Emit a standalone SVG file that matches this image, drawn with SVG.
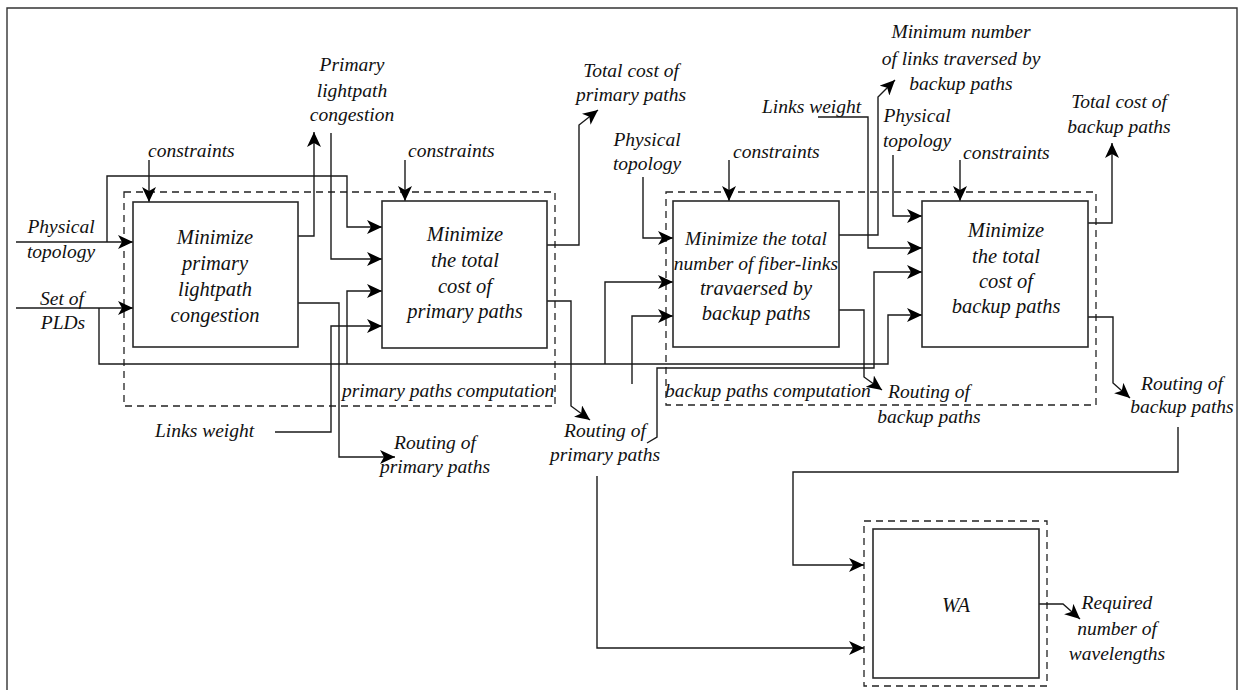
<svg xmlns="http://www.w3.org/2000/svg" width="1244" height="690" viewBox="0 0 1244 690">
<style>
.ln{fill:none;stroke:#1a1a1a;stroke-width:1.4}
.bx{fill:#fff;stroke:#2a2a2a;stroke-width:1.6}
.ds{fill:none;stroke:#222;stroke-width:1.3;stroke-dasharray:7 5}
.fr{fill:none;stroke:#333;stroke-width:1.4}
text{font-family:"Liberation Serif",serif;font-style:italic;font-size:19.5px;fill:#111}
.b{font-size:20.5px}
.c{text-anchor:middle}
</style>
<defs>
<marker id="ah" markerWidth="16" markerHeight="14" refX="15" refY="7" orient="auto" markerUnits="userSpaceOnUse">
<path d="M0,0 L15,7 L0,14 L4,7 z" fill="#000"/>
</marker>
</defs>
<rect width="1244" height="690" fill="#fff"/>
<path class="fr" d="M7,690 V8 H1237 V690"/>

<g id="groups">
<rect class="ds" x="124" y="192" width="431" height="214"/>
<rect class="ds" x="666" y="192" width="430" height="213"/>
<rect class="ds" x="864" y="521" width="183" height="165"/>
<text x="342" y="397">primary paths computation</text>
<text x="665" y="397">backup paths computation</text>
</g>

<g id="connectors" marker-end="url(#ah)">
<path class="ln" d="M16,242 H133"/>
<path class="ln" d="M107,242 V176 H347 V227 H382"/>
<path class="ln" d="M16,308 H133"/>
<path class="ln" d="M99,308 V364 H888 V315 H922"/>
<path class="ln" d="M347,364 V291 H382"/>
<path class="ln" d="M605,364 V282 H673"/>
<path class="ln" d="M149,160 V202"/>
<path class="ln" d="M405,160 V201"/>
<path class="ln" d="M729,160 V201"/>
<path class="ln" d="M960,160 V201"/>
<path class="ln" d="M298,236 H314 V132"/>
<path class="ln" d="M331,133 V259 H382"/>
<path class="ln" d="M298,303 H339 V457 H395"/>
<path class="ln" d="M275,432 H331 V326 H382"/>
<path class="ln" d="M547,245 H579 V125 L598,110"/>
<path class="ln" d="M547,301 H571 V406 L590,420"/>
<path class="ln" d="M647,443 L657,437 V368 H874 V272 H922"/>
<path class="ln" d="M597,476 V648 H864"/>
<path class="ln" d="M643,177 V238 H673"/>
<path class="ln" d="M632,384 V316 H673"/>
<path class="ln" d="M839,235 H878 V97 L895,80"/>
<path class="ln" d="M839,310 H864 V377 L882,390"/>
<path class="ln" d="M818,117 H868 V248 H922"/>
<path class="ln" d="M893,155 V216 H922"/>
<path class="ln" d="M1088,223 H1112 V143"/>
<path class="ln" d="M1088,317 H1113 V383 L1130,398"/>
<path class="ln" d="M1178,427 V472 H793 V565 H864"/>
<path class="ln" d="M1039,604 H1063 L1080,619"/>
</g>

<g id="box1">
<rect class="bx" x="133" y="202" width="165" height="145"/>
<text class="c b" x="215" y="244">Minimize</text>
<text class="c b" x="215" y="270">primary</text>
<text class="c b" x="215" y="296">lightpath</text>
<text class="c b" x="215" y="322">congestion</text>
</g>
<g id="box2">
<rect class="bx" x="382" y="201" width="165" height="147"/>
<text class="c b" x="465" y="241">Minimize</text>
<text class="c b" x="465" y="267">the total</text>
<text class="c b" x="465" y="293">cost of</text>
<text class="c b" x="465" y="318">primary paths</text>
</g>
<g id="box3">
<rect class="bx" x="673" y="201" width="166" height="146"/>
<text class="c" x="756" y="245">Minimize the total</text>
<text class="c" x="756" y="270">number of fiber-links</text>
<text class="c b" x="756" y="295">travaersed by</text>
<text class="c b" x="756" y="320">backup paths</text>
</g>
<g id="box4">
<rect class="bx" x="922" y="201" width="166" height="146"/>
<text class="c b" x="1006" y="237">Minimize</text>
<text class="c b" x="1006" y="263">the total</text>
<text class="c b" x="1006" y="288">cost of</text>
<text class="c b" x="1006" y="313">backup paths</text>
</g>
<g id="wa">
<rect class="bx" x="873" y="529" width="166" height="149"/>
<text class="c b" x="956" y="612">WA</text>
</g>

<g id="labels">
<text class="c" x="61" y="233">Physical</text>
<text class="c" x="61" y="258">topology</text>
<text class="c" x="62" y="305">Set of</text>
<text class="c" x="63" y="329">PLDs</text>
<text x="148" y="157">constraints</text>
<text class="c" x="352" y="71">Primary</text>
<text class="c" x="352" y="97">lightpath</text>
<text class="c" x="352" y="121">congestion</text>
<text x="408" y="157">constraints</text>
<text class="c" x="631" y="77">Total cost of</text>
<text class="c" x="631" y="101">primary paths</text>
<text class="c" x="647" y="146">Physical</text>
<text class="c" x="647" y="170">topology</text>
<text x="733" y="158">constraints</text>
<text x="762" y="113">Links weight</text>
<text class="c" x="961" y="38">Minimum number</text>
<text class="c" x="961" y="65">of links traversed by</text>
<text class="c" x="961" y="90">backup paths</text>
<text class="c" x="917" y="122">Physical</text>
<text class="c" x="917" y="147">topology</text>
<text x="963" y="159">constraints</text>
<text class="c" x="1119" y="108">Total cost of</text>
<text class="c" x="1119" y="133">backup paths</text>
<text x="155" y="437">Links weight</text>
<text class="c" x="435" y="449">Routing of</text>
<text class="c" x="435" y="473">primary paths</text>
<text class="c" x="605" y="437">Routing of</text>
<text class="c" x="605" y="461">primary paths</text>
<text class="c" x="929" y="398">Routing of</text>
<text class="c" x="929" y="423">backup paths</text>
<text class="c" x="1182" y="390">Routing of</text>
<text class="c" x="1182" y="413">backup paths</text>
<text class="c" x="1117" y="609">Required</text>
<text class="c" x="1117" y="635">number of</text>
<text class="c" x="1117" y="660">wavelengths</text>
</g>
</svg>
